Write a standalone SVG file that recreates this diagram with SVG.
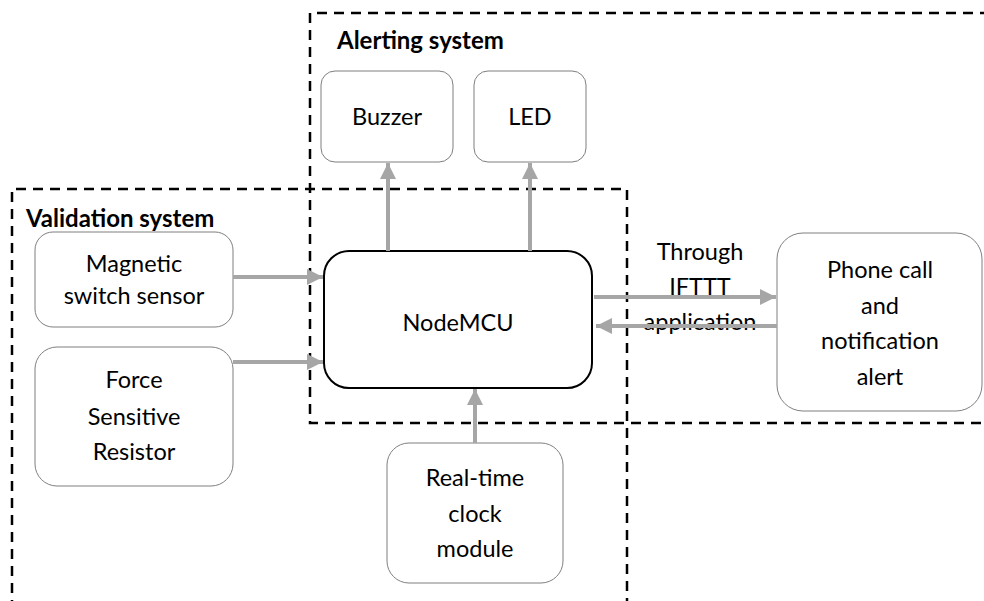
<svg xmlns="http://www.w3.org/2000/svg" width="984" height="601" viewBox="0 0 984 601">
<style>
.box{fill:#fff;stroke:#7f7f7f;stroke-width:1}
.main{fill:#fff;stroke:#000;stroke-width:2}
.dash{fill:none;stroke:#000;stroke-width:2.5;stroke-dasharray:10 7}
.t{font-family:Lato,"Open Sans",sans-serif;font-size:23.5px;fill:#000;text-anchor:middle}
.h{font-family:Lato,"Open Sans",sans-serif;font-size:24px;font-weight:bold;fill:#000}
.c{stroke:#a6a6a6;stroke-width:4;fill:none}
</style>
<defs>
<marker id="ah" viewBox="0 0 10 10" refX="10" refY="5" markerWidth="4" markerHeight="4" markerUnits="strokeWidth" orient="auto">
<path d="M0,0 L10,5 L0,10 z" fill="#a6a6a6"/>
</marker>
</defs>
<rect fill="#fff" width="984" height="601"/>
<g id="alerting-system">
<path class="dash" d="M990,13 H310 V423 H990"/>
<text class="h" x="337" y="49">Alerting system</text>
</g>
<g id="validation-system">
<path class="dash" d="M12,610 V189 H627 V610"/>
<text class="h" x="26" y="227">Validation system</text>
</g>
<g id="labels">
<text class="t" x="700" y="260">Through</text>
<text class="t" x="700" y="295">IFTTT</text>
<text class="t" x="700" y="330">application</text>
</g>
<g id="buzzer">
<rect class="box" x="321" y="71" width="132" height="91" rx="14"/>
<text class="t" x="387" y="125">Buzzer</text>
</g>
<g id="led">
<rect class="box" x="474" y="71" width="112" height="91" rx="14"/>
<text class="t" x="530" y="125">LED</text>
</g>
<g id="magnetic">
<rect class="box" x="35" y="232" width="198" height="95" rx="18"/>
<text class="t" x="134" y="272">Magnetic</text>
<text class="t" x="134" y="304">switch sensor</text>
</g>
<g id="force">
<rect class="box" x="35" y="347" width="198" height="139" rx="22"/>
<text class="t" x="134" y="388">Force</text>
<text class="t" x="134" y="425">Sensitive</text>
<text class="t" x="134" y="460">Resistor</text>
</g>
<g id="nodemcu">
<rect class="main" x="324" y="251" width="268" height="137" rx="25"/>
<text class="t" x="458" y="331">NodeMCU</text>
</g>
<g id="rtc">
<rect class="box" x="387" y="443" width="176" height="140" rx="22"/>
<text class="t" x="475" y="486">Real-time</text>
<text class="t" x="475" y="522">clock</text>
<text class="t" x="475" y="557">module</text>
</g>
<g id="phone">
<rect class="box" x="777" y="233" width="205" height="178" rx="26"/>
<text class="t" x="880" y="278">Phone call</text>
<text class="t" x="880" y="314">and</text>
<text class="t" x="880" y="349">notification</text>
<text class="t" x="880" y="385">alert</text>
</g>
<g id="connectors">
<line class="c" x1="388" y1="251" x2="388" y2="163" marker-end="url(#ah)"/>
<line class="c" x1="530" y1="251" x2="530" y2="163" marker-end="url(#ah)"/>
<line class="c" x1="233" y1="277" x2="323" y2="277" marker-end="url(#ah)"/>
<line class="c" x1="233" y1="362" x2="323" y2="362" marker-end="url(#ah)"/>
<line class="c" x1="475" y1="443" x2="475" y2="389" marker-end="url(#ah)"/>
<line class="c" x1="594" y1="297" x2="776" y2="297" marker-end="url(#ah)"/>
<line class="c" x1="777" y1="326" x2="596" y2="326" marker-end="url(#ah)"/>
</g>
</svg>
